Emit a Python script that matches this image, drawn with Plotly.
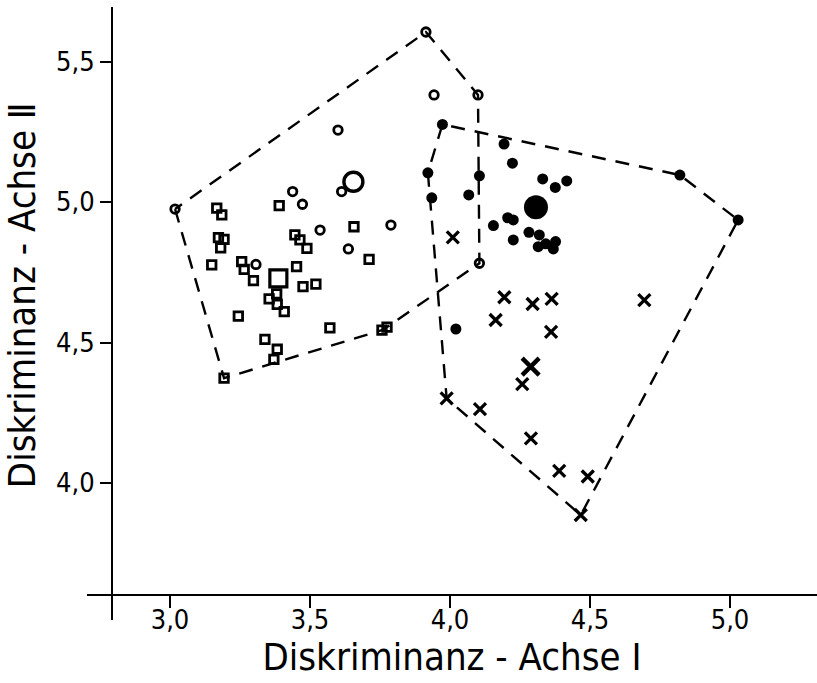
import plotly.graph_objects as go

# --- Gruppe 1: offene Kreise ---
circ_x = [3.018, 3.914, 3.943, 4.100, 4.105, 3.600, 3.613, 3.438, 3.473, 3.536, 3.637, 3.789, 3.307]
circ_y = [4.975, 5.605, 5.381, 5.381, 4.782, 5.256, 5.037, 5.037, 4.992, 4.900, 4.833, 4.918, 4.778]
circ_mean = (3.655, 5.072)

# --- Gruppe 2: offene Quadrate ---
sq_x = [3.167, 3.185, 3.173, 3.193, 3.181, 3.149, 3.256, 3.265, 3.298, 3.452,
        3.390, 3.446, 3.464, 3.489, 3.475, 3.521, 3.657, 3.711, 3.354, 3.381,
        3.383, 3.408, 3.244, 3.339, 3.383, 3.371, 3.193, 3.571, 3.757, 3.775]
sq_y = [4.978, 4.954, 4.873, 4.867, 4.837, 4.776, 4.788, 4.760, 4.720, 4.770,
        4.987, 4.883, 4.865, 4.835, 4.699, 4.708, 4.912, 4.796, 4.655, 4.673,
        4.636, 4.610, 4.594, 4.511, 4.476, 4.440, 4.373, 4.552, 4.544, 4.555]
sq_mean = (3.387, 4.728)

# --- Gruppe 3: gefuellte Kreise ---
dot_x = [3.973, 4.193, 4.223, 3.921, 4.105, 3.935, 4.067, 4.331, 4.376, 4.417,
         4.155, 4.206, 4.226, 4.226, 4.282, 4.319, 4.315, 4.342, 4.369, 4.377,
         4.021, 4.821, 5.029]
dot_y = [5.276, 5.206, 5.138, 5.104, 5.093, 5.015, 5.025, 5.082, 5.052, 5.075,
         4.916, 4.944, 4.936, 4.865, 4.892, 4.883, 4.841, 4.851, 4.833, 4.859,
         4.548, 5.096, 4.936]
dot_mean = (4.307, 4.981)

# --- Gruppe 4: Kreuze ---
cross_x = [4.010, 4.194, 4.295, 4.363, 4.694, 4.163, 4.361, 4.258, 3.988, 4.107,
           4.289, 4.390, 4.492, 4.467]
cross_y = [4.874, 4.661, 4.637, 4.655, 4.651, 4.580, 4.538, 4.352, 4.301, 4.263,
           4.159, 4.043, 4.023, 3.886]
cross_mean = (4.288, 4.414)

x_ticks = [3.0, 3.5, 4.0, 4.5, 5.0]
y_ticks = [4.0, 4.5, 5.0, 5.5]


def convex_hull(xs, ys):
    """Monotone-chain convex hull, returned as a closed polygon."""
    pts = sorted(set(zip(xs, ys)))

    def cross(o, a, b):
        return (a[0] - o[0]) * (b[1] - o[1]) - (a[1] - o[1]) * (b[0] - o[0])

    lower, upper = [], []
    for p in pts:
        while len(lower) >= 2 and cross(lower[-2], lower[-1], p) <= 0:
            lower.pop()
        lower.append(p)
    for p in reversed(pts):
        while len(upper) >= 2 and cross(upper[-2], upper[-1], p) <= 0:
            upper.pop()
        upper.append(p)
    hull = lower[:-1] + upper[:-1]
    hull.append(hull[0])
    return [p[0] for p in hull], [p[1] for p in hull]


BLACK = "black"
fig = go.Figure()

# Huellen der beiden Gruppenpaare (gestrichelt)
for hx, hy in (convex_hull(circ_x + sq_x, circ_y + sq_y),
               convex_hull(dot_x + cross_x, dot_y + cross_y)):
    fig.add_trace(go.Scatter(x=hx, y=hy, mode="lines",
                             line=dict(color=BLACK, width=2.4, dash="14px,10px"),
                             hoverinfo="skip"))


def add_points(xs, ys, symbol, size, lw):
    fig.add_trace(go.Scatter(
        x=xs, y=ys, mode="markers",
        marker=dict(symbol=symbol, size=size, color=BLACK,
                    line=dict(color=BLACK, width=lw))))


add_points(sq_x, sq_y, "square-open", 8.5, 2.8)
add_points(circ_x, circ_y, "circle-open", 8.5, 2.8)
add_points(dot_x, dot_y, "circle", 11, 0)
add_points(cross_x, cross_y, "x-thin-open", 12, 3.3)

# Gruppenmittelwerte (grosse Symbole)
add_points([sq_mean[0]], [sq_mean[1]], "square-open", 17, 3.2)
add_points([circ_mean[0]], [circ_mean[1]], "circle-open", 19, 3.4)
add_points([dot_mean[0]], [dot_mean[1]], "circle", 24, 0)
add_points([cross_mean[0]], [cross_mean[1]], "x-thin-open", 17, 4.4)

FONT = "DejaVu Sans Condensed, DejaVu Sans, sans-serif"

axis_common = dict(
    showline=True, linecolor=BLACK, linewidth=2,
    ticks="outside", tickcolor=BLACK, tickwidth=2,
    showgrid=False, zeroline=False, tickformat=".1f",
    tickfont=dict(family=FONT, size=27, color=BLACK),
    anchor="free", automargin=False,
)

fig.update_layout(
    width=817, height=683,
    margin=dict(l=87, r=0, t=7, b=63),
    paper_bgcolor="white", plot_bgcolor="white",
    showlegend=False,
    separators=",.",
    xaxis=dict(range=[2.70357, 5.31071], tickvals=x_ticks, ticklen=12,
               position=0.04078, ticklabelstandoff=-11,
               title=dict(text="Diskriminanz - Achse Ⅰ",
                          font=dict(family=FONT, size=38, color=BLACK),
                          standoff=6),
               **axis_common),
    yaxis=dict(range=[3.51246, 5.69395], tickvals=y_ticks, ticklen=11,
               position=0.03425, **axis_common),
    annotations=[dict(
        text="Diskriminanz - Achse Ⅱ", textangle=-90,
        xref="paper", yref="paper", x=-0.089, y=0.530,
        xanchor="center", yanchor="middle", showarrow=False,
        font=dict(family=FONT, size=38, color=BLACK))],
)

fig.write_html("out.html")
